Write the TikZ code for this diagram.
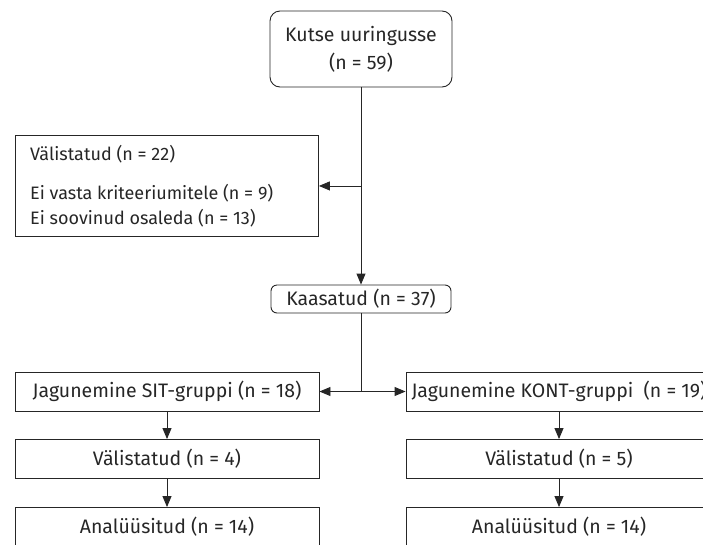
\documentclass[tikz,border=0pt]{standalone}
\usepackage{fontspec}
\setmainfont{Fira Sans}
\usetikzlibrary{arrows.meta}
\begin{document}
\begin{tikzpicture}[x=1pt,y=-1pt,
  every node/.style={font=\fontsize{19.5}{25}\selectfont, text=black!85, inner sep=0pt},
  box/.style={draw=black!85, line width=0.9pt, minimum height=39pt, minimum width=304pt},
  rbox/.style={draw=black!85, line width=0.9pt, rounded corners=10pt},
  conn/.style={draw=black!85, line width=0.9pt},
  arr/.style={conn, -{Triangle[length=11pt,width=9pt]}}]
\useasboundingbox (0,0) rectangle (703,544);
\node[rbox, minimum width=182pt, minimum height=76pt, align=center] (top) at (361,49) {Kutse uuringusse\\[3pt](n = 59)};
\node[draw=black!85, line width=0.9pt, minimum width=303pt, minimum height=101pt, anchor=north west] (excl) at (15,135) {};
\node[align=left, anchor=west, font=\fontsize{18}{24.5}\selectfont] (excltxt) at ([xshift=15pt]excl.west)
  {Välistatud (n = 22)\\[15pt]Ei vasta kriteeriumitele (n = 9)\\Ei soovinud osaleda (n = 13)};
\node[rbox, rounded corners=6pt, minimum width=180pt, minimum height=28pt] (kaas) at (361,299) {Kaasatud (n = 37)};
\node[box] (sit) at (167,391.5) {Jagunemine SIT-gruppi (n = 18)};
\node[box] (v4) at (167,459) {Välistatud (n = 4)};
\node[box] (a1) at (167,527) {Analüüsitud (n = 14)};
\node[box, minimum width=306pt] (kont) at (559,391.5) {Jagunemine KONT-gruppi\ \ (n = 19)};
\node[box, minimum width=306pt] (v5) at (559,459) {Välistatud (n = 5)};
\node[box, minimum width=306pt] (a2) at (559,527) {Analüüsitud (n = 14)};
\coordinate (j1) at (top.south |- excl.east);
\coordinate (j2) at (kaas.south |- sit.east);
\draw[arr] (top.south) -- (kaas.north);
\draw[arr] (j1) -- (excl.east);
\draw[conn] (kaas.south) -- (j2);
\draw[arr] (j2) -- (sit.east);
\draw[arr] (j2) -- (kont.west);
\draw[arr] (sit.south) -- (v4.north);
\draw[arr] (v4.south) -- (a1.north);
\draw[arr] (kont.south) -- (v5.north);
\draw[arr] (v5.south) -- (a2.north);
\end{tikzpicture}
\end{document}
